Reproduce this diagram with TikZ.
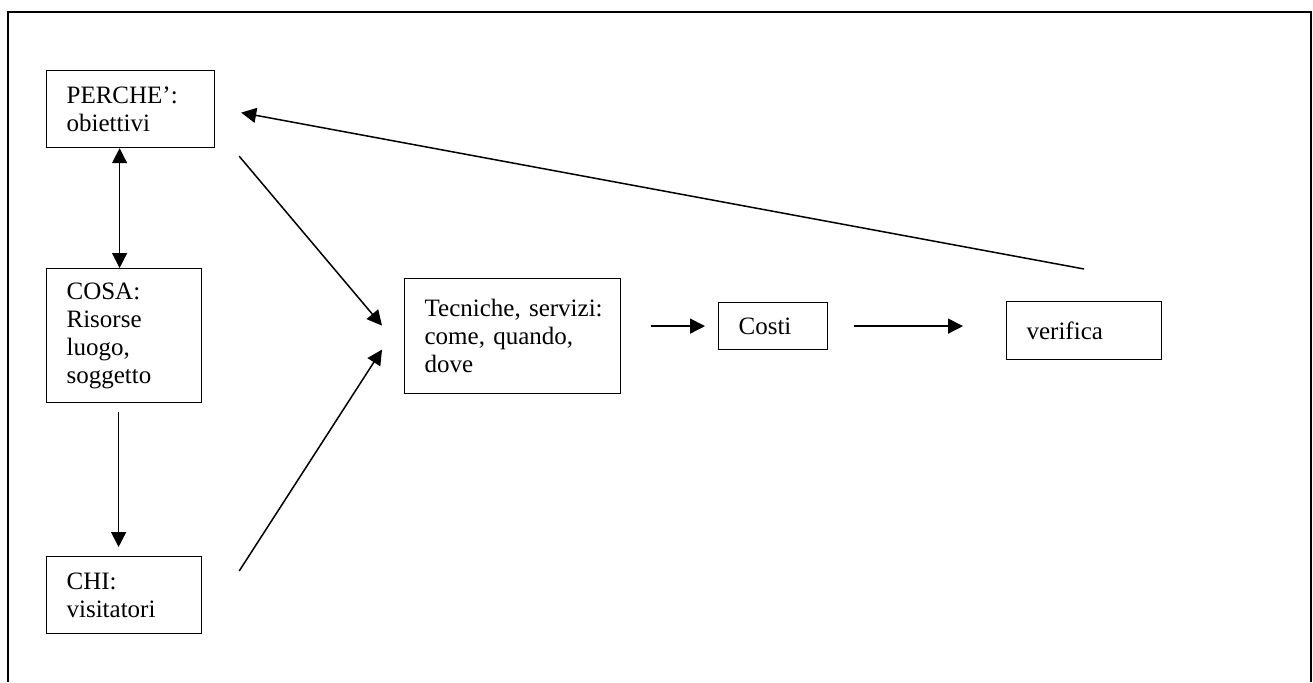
\documentclass[tikz,border=0pt]{standalone}
\usepackage{fontspec}
\setmainfont{Liberation Serif}
\usetikzlibrary{arrows.meta,calc}

\tikzset{
    head/.tip={Triangle[length=7.5pt,width=7.5pt]},
    box/.style 2 args={draw, line width=0.6pt, rectangle, anchor=north west,
        align=left, inner xsep=10pt, inner ysep=0pt,
        text width=#1, minimum height=#2,
        font=\fontsize{12.5}{14}\selectfont},
    link/.style={line width=0.75pt, -head},
    frame/.style={line width=0.85pt}
}

\begin{document}
\begin{tikzpicture}[x=0.5pt,y=-0.5pt]
                \useasboundingbox (0,0) rectangle (1313,682);
                \draw[frame]
                    (8,682) -- (8,12) -- (1311,12) -- (1311,682);
                \node[box={64pt}{38.5pt}] (perche) at (46,70) {PERCHE’:\\obiettivi};
                \node[box={57.5pt}{67pt}] (cosa) at (46,268) {COSA:\\Risorse\\luogo,\\soggetto};
                \node[box={57.5pt}{38.5pt}] (chi) at (46,556) {CHI:\\visitatori};
                \node[box={88pt}{57.5pt}] (tecniche) at (404,278) {Tecniche,~servizi:\\come, quando,\\dove};
                \node[box={34.5pt}{23.5pt}] (costi) at (718,302) {Costi};
                \node[box={57.5pt}{29pt}] (verifica) at (1006,301) {verifica};
                \draw[link, head-head]
                    ([xshift=-5.5pt]perche.south) -- ([xshift=-2.25pt]cosa.north);
                \draw[link, shorten <=4.5pt, shorten >=4.5pt]
                    ([xshift=-2.75pt]cosa.south) -- ([xshift=-2.75pt]chi.north);
                \draw[link]
                    ($(perche.south east)+(24,8)$) -- ($(tecniche.west)+(-22,-10.5)$);
                \draw[link]
                    ($(chi.north east)+(37,15)$) -- ($(tecniche.west)+(-22,13.5)$);
                \draw[link, shorten <=15pt, shorten >=6.5pt]
                    (tecniche.east |- costi.west) -- (costi.west);
                \draw[link, shorten <=13pt, shorten >=21.5pt]
                    (costi.east) -- (costi.east -| verifica.west);
                \draw[link]
                    ($(verifica.north)+(0,-32)$) -- ($(perche.east)+(26,3.5)$);
\end{tikzpicture}
\end{document}
